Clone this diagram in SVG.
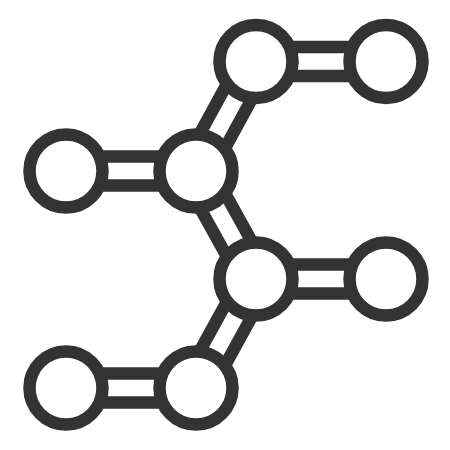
<svg xmlns="http://www.w3.org/2000/svg" width="450" height="450" viewBox="0 0 450 450">
<style>
.rail{stroke:#333;stroke-width:12.5;fill:none}
.node{fill:#fff;stroke:#333;stroke-width:12.5}
</style>
<rect width="450" height="450" fill="#fff"/>
<g id="connectors">
<line class="rail" x1="256" y1="47" x2="386" y2="47"/>
<line class="rail" x1="256" y1="76" x2="386" y2="76"/>
<line class="rail" x1="66" y1="156.5" x2="196" y2="156.5"/>
<line class="rail" x1="66" y1="185.5" x2="196" y2="185.5"/>
<line class="rail" x1="256" y1="264.5" x2="386" y2="264.5"/>
<line class="rail" x1="256" y1="293.5" x2="386" y2="293.5"/>
<line class="rail" x1="66" y1="373.5" x2="196" y2="373.5"/>
<line class="rail" x1="66" y1="402.5" x2="196" y2="402.5"/>
<line class="rail" x1="208.7" y1="177.9" x2="268.7" y2="67.9"/>
<line class="rail" x1="183.3" y1="164.1" x2="243.3" y2="54.1"/>
<line class="rail" x1="208.7" y1="164" x2="268.7" y2="272"/>
<line class="rail" x1="183.3" y1="178" x2="243.3" y2="286"/>
<line class="rail" x1="268.7" y1="286" x2="208.7" y2="395"/>
<line class="rail" x1="243.3" y1="272" x2="183.3" y2="381"/>
</g>
<g id="n1"><circle class="node" cx="256" cy="61.5" r="36.5"/></g>
<g id="n2"><circle class="node" cx="386" cy="61.5" r="36.5"/></g>
<g id="n3"><circle class="node" cx="66" cy="171" r="36.5"/></g>
<g id="n4"><circle class="node" cx="196" cy="171" r="36.5"/></g>
<g id="n5"><circle class="node" cx="256" cy="279" r="36.5"/></g>
<g id="n6"><circle class="node" cx="386" cy="279" r="36.5"/></g>
<g id="n7"><circle class="node" cx="66" cy="388" r="36.5"/></g>
<g id="n8"><circle class="node" cx="196" cy="388" r="36.5"/></g>
</svg>
